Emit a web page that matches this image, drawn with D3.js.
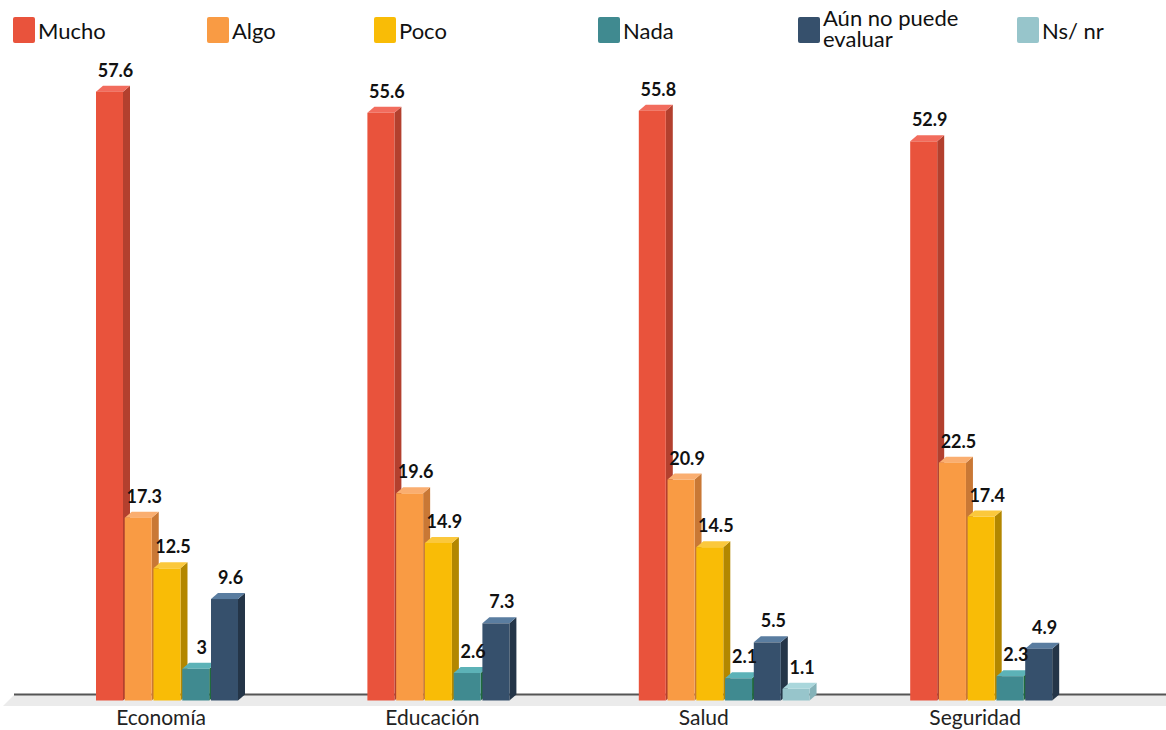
<!DOCTYPE html>
<html>
<head>
<meta charset="utf-8">
<script src="https://cdn.jsdelivr.net/npm/d3@7/dist/d3.min.js"></script>
<style>
  html, body { margin: 0; padding: 0; background: #fff; }
  svg { display: block; font-family: Lato, "Noto Sans", sans-serif; }
</style>
</head>
<body>
<svg id="chart" width="1166" height="730"></svg>
<script>
// Data
const categories = ["Economía", "Educación", "Salud", "Seguridad"];
const seriesNames = ["Mucho", "Algo", "Poco", "Nada", "Aún no puede evaluar", "Ns/ nr"];
const mucho = [57.6, 55.6, 55.8, 52.9];
const algo = [17.3, 19.6, 20.9, 22.5];
const poco = [12.5, 14.9, 14.5, 17.4];
const nada = [3, 2.6, 2.1, 2.3];
const aunNoPuede = [9.6, 7.3, 5.5, 4.9];
const nsNr = [null, null, 1.1, null];
const seriesValues = [mucho, algo, poco, nada, aunNoPuede, nsNr];

// Colours per series: front, side, top
const palette = [
  { front: "#E9533C", side: "#B3402E", top: "#F26C5D" },
  { front: "#F99B44", side: "#C97835", top: "#FAAE70" },
  { front: "#F9BC06", side: "#B38700", top: "#FBC83C" },
  { front: "#408A90", side: "#1F6A3C", top: "#5CB2B7" },
  { front: "#36506C", side: "#243548", top: "#5A7DA0" },
  { front: "#97C5CB", side: "#84B2B8", top: "#AAD7DC" }
];

// Layout
const width = 1166, height = 730;
const baseY = 700.5;
const depthX = 7, depthY = 6;
const legendX = [13, 207, 374, 598, 798, 1017];

const svg = d3.select("#chart");

// Scales
const x0 = d3.scaleBand().domain(categories).range([96, 96 + 4 * 271.4]).padding(0);
const x1 = d3.scaleBand().domain(seriesNames).range([0, 170.75]).paddingInner(0.061).paddingOuter(0);
const y = d3.scaleLinear().domain([0, 66.27]).range([baseY, 0]);

// Floor
svg.append("polygon")
  .attr("points", [[14, 695], [width, 695], [width, 706], [3, 706]].map(p => p.join(",")).join(" "))
  .attr("fill", "#EBEBEB");
svg.append("line")
  .attr("x1", 14).attr("x2", width).attr("y1", 694.5).attr("y2", 694.5)
  .attr("stroke", "#555").attr("stroke-width", 2);

// Category labels
svg.append("g").selectAll("text")
  .data(categories)
  .join("text")
  .attr("x", d => x0(d) + 65)
  .attr("y", 725)
  .attr("text-anchor", "middle")
  .attr("font-size", 21)
  .attr("fill", "#222")
  .text(d => d);

// Bars
const bars = [];
categories.forEach((c, ci) => {
  seriesNames.forEach((s, si) => {
    const v = seriesValues[si][ci];
    if (v !== null && v !== undefined) bars.push({ c, s, si, v });
  });
});

const w = x1.bandwidth();
const barG = svg.append("g").selectAll("g")
  .data(bars)
  .join("g");

barG.each(function(d) {
  const g = d3.select(this);
  const bx = x0(d.c) + x1(d.s);
  const yt = y(d.v);
  const col = palette[d.si];
  g.append("polygon")
    .attr("points", [[bx + w, yt], [bx + w + depthX, yt - depthY], [bx + w + depthX, baseY - depthY], [bx + w, baseY]].map(p => p.join(",")).join(" "))
    .attr("fill", col.side);
  g.append("polygon")
    .attr("points", [[bx, yt], [bx + depthX, yt - depthY], [bx + w + depthX, yt - depthY], [bx + w, yt]].map(p => p.join(",")).join(" "))
    .attr("fill", col.top);
  g.append("rect")
    .attr("x", bx).attr("y", yt)
    .attr("width", w).attr("height", baseY - yt)
    .attr("fill", col.front);
});

// Value labels
svg.append("g").selectAll("text")
  .data(bars)
  .join("text")
  .attr("x", d => x0(d.c) + x1(d.s) + w / 2 + 6)
  .attr("y", d => y(d.v) - 15)
  .attr("text-anchor", "middle")
  .attr("font-size", 18)
  .attr("font-weight", "bold")
  .attr("fill", "#111")
  .text(d => d.v);

// Legend
const legend = svg.append("g").selectAll("g")
  .data(seriesNames)
  .join("g")
  .attr("transform", (d, i) => `translate(${legendX[i]},0)`);

legend.append("rect")
  .attr("x", 0).attr("y", 17)
  .attr("width", 22).attr("height", 26)
  .attr("rx", 2)
  .attr("fill", (d, i) => palette[i].front);

legend.each(function(d) {
  const g = d3.select(this);
  const t = g.append("text")
    .attr("font-size", 22)
    .attr("fill", "#111");
  if (d === "Aún no puede evaluar") {
    t.append("tspan").attr("x", 25).attr("y", 26).text("Aún no puede");
    t.append("tspan").attr("x", 25).attr("y", 47).text("evaluar");
  } else {
    t.attr("x", 25).attr("y", 39).text(d);
  }
});
</script>
</body>
</html>
